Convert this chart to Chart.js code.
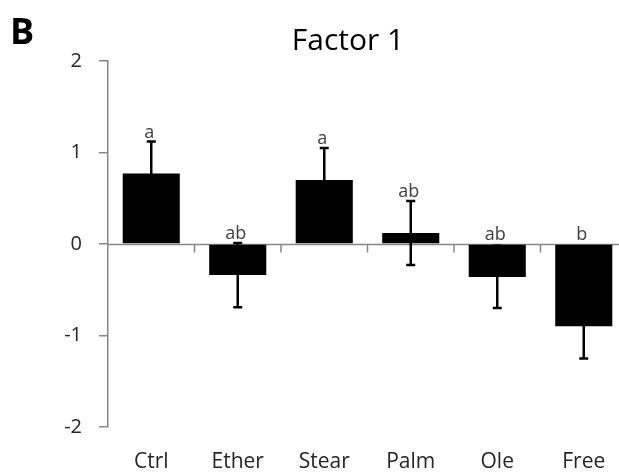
<!DOCTYPE html>
<html>
<head>
<meta charset="utf-8">
<script src="https://cdn.jsdelivr.net/npm/chart.js@4"></script>
<style>
  html, body { margin: 0; padding: 0; background: #fff; overflow: hidden; }
  #wrap { position: relative; width: 630px; height: 473px; }
  #panel { position: absolute; left: 10px; top: 6px; font: bold 36px "Open Sans", sans-serif; color: #000; }
</style>
</head>
<body>
<div id="wrap">
  <canvas id="factor-chart" width="630" height="473"></canvas>
  <div id="panel">B</div>
</div>
<script>
const groups = ["Ctrl", "Ether", "Stear", "Palm", "Ole", "Free"];
const means = [0.77, -0.34, 0.70, 0.12, -0.36, -0.90];
const errors = [0.35, 0.35, 0.35, 0.35, 0.34, 0.35];
const letters = ["a", "ab", "a", "ab", "ab", "b"];
const yTicks = [-2, -1, 0, 1, 2];

const axisGrey = "#868686";
const font = "'Open Sans', sans-serif";

// zero line, error bars, significance letters and title
const extras = {
  id: "extras",
  beforeDatasetsDraw(chart) {
    const { ctx, chartArea, scales } = chart;
    const y0 = Math.round(scales.y.getPixelForValue(0)) + 0.5;
    ctx.save();
    ctx.strokeStyle = axisGrey;
    ctx.lineWidth = 1.5;
    ctx.beginPath();
    ctx.moveTo(chartArea.left, y0);
    ctx.lineTo(chartArea.right, y0);
    for (let i = 0; i < groups.length - 1; i++) {
      const x = (scales.x.getPixelForValue(i) + scales.x.getPixelForValue(i + 1)) / 2;
      ctx.moveTo(x, y0);
      ctx.lineTo(x, y0 + 8);
    }
    ctx.stroke();
    ctx.restore();
  },
  afterDatasetsDraw(chart) {
    const { ctx, scales } = chart;
    ctx.save();
    ctx.strokeStyle = "#000";
    ctx.lineWidth = 2.5;
    means.forEach((m, i) => {
      const x = scales.x.getPixelForValue(i);
      const hi = scales.y.getPixelForValue(m + errors[i]);
      const lo = scales.y.getPixelForValue(m - errors[i]);
      ctx.beginPath();
      ctx.moveTo(x, hi);
      ctx.lineTo(x, lo);
      ctx.moveTo(x - 4.5, hi);
      ctx.lineTo(x + 4.5, hi);
      ctx.moveTo(x - 4.5, lo);
      ctx.lineTo(x + 4.5, lo);
      ctx.stroke();

      const top = scales.y.getPixelForValue(Math.max(m + errors[i], 0));
      ctx.fillStyle = "#404040";
      ctx.font = "18px " + font;
      ctx.textAlign = "center";
      ctx.textBaseline = "alphabetic";
      ctx.fillText(letters[i], x - 2, top - 4);
    });
    ctx.restore();
  },
  afterDraw(chart) {
    const { ctx } = chart;
    ctx.save();
    ctx.fillStyle = "#000";
    ctx.font = "30px " + font;
    ctx.textAlign = "center";
    ctx.textBaseline = "alphabetic";
    ctx.fillText("Factor 1", 348, 50);
    ctx.restore();
  },
};

new Chart(document.getElementById("factor-chart"), {
  type: "bar",
  data: {
    labels: groups,
    datasets: [
      {
        label: "Factor 1",
        data: means,
        backgroundColor: "#000",
        borderWidth: 0,
        barPercentage: 0.66,
        categoryPercentage: 1,
      },
    ],
  },
  options: {
    responsive: false,
    animation: false,
    layout: { padding: { top: 61, right: 3, bottom: 0, left: 0 } },
    plugins: {
      legend: { display: false },
      tooltip: { enabled: false },
      title: { display: false },
    },
    scales: {
      x: {
        grid: { display: false, drawTicks: false },
        border: { display: false },
        afterFit(scale) {
          scale.height = 46;
        },
        ticks: {
          padding: 22,
          color: "#262626",
          font: { family: font, size: 21 },
        },
      },
      y: {
        min: -2,
        max: 2,
        afterBuildTicks(scale) {
          scale.ticks = yTicks.map((v) => ({ value: v }));
        },
        afterFit(scale) {
          scale.width = 108;
        },
        grid: {
          drawOnChartArea: false,
          drawTicks: true,
          tickLength: 9,
          color: axisGrey,
          lineWidth: 1.5,
        },
        border: { display: true, color: axisGrey, width: 1.5 },
        ticks: {
          padding: 17,
          color: "#262626",
          font: { family: font, size: 20 },
        },
      },
    },
  },
  plugins: [extras],
});
</script>
</body>
</html>
